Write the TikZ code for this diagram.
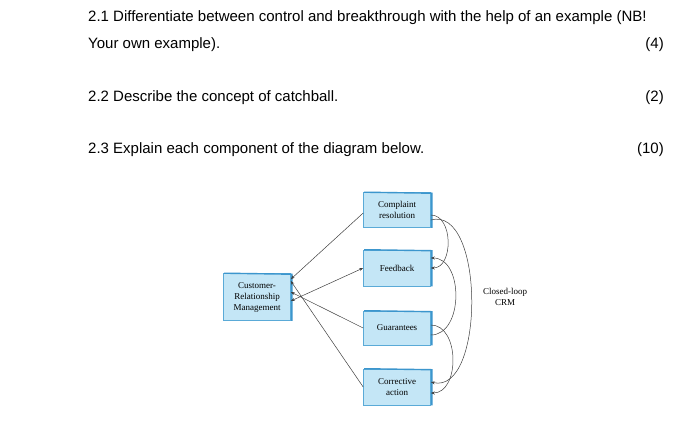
\documentclass[tikz,border=0pt]{standalone}
\usepackage{fontspec}
\setmainfont{Liberation Sans}
\newfontfamily\diag{Liberation Serif}
\usetikzlibrary{arrows.meta}
\definecolor{boxfill}{RGB}{196,230,246}
\definecolor{boxline}{RGB}{90,170,215}
\definecolor{boxdark}{RGB}{60,150,205}
\begin{document}
\begin{tikzpicture}[x=1pt,y=-1pt,
  q/.style={anchor=base west,inner sep=0pt,font=\fontsize{15}{18}\selectfont},
  qr/.style={anchor=base east,inner sep=0pt,font=\fontsize{15}{18}\selectfont},
  bx/.style={draw=boxline,fill=boxfill,line width=0.6pt,minimum width=67pt,align=center,font=\diag\fontsize{9}{11}\selectfont,inner sep=1pt},
  arr/.style={draw=black!75,line width=0.5pt,-{Stealth[length=4pt,width=3pt]}}]
\useasboundingbox (0,0) rectangle (700,424);
\fill[white] (0,0) rectangle (700,424);
\node[q] (l1) at (88,21) {2.1 Differentiate between control and breakthrough with the help of an example (NB!};
\node[q] (l2) at (88,48) {Your own example).};
\node[qr] (m1) at (664,48) {(4)};
\node[q] (l3) at (88,101) {2.2 Describe the concept of catchball.};
\node[qr] (m2) at (664,101) {(2)};
\node[q] (l4) at (88,153) {2.3 Explain each component of the diagram below.};
\node[qr] (m3) at (664,153) {(10)};
\node[bx,minimum height=35pt] (cr) at (397,210) {Complaint\\resolution};
\node[bx,minimum height=36pt] (fb) at (397,268) {Feedback};
\node[bx,minimum height=34pt] (gu) at (397,328) {Guarantees};
\node[bx,minimum height=36pt] (ca) at (397,387) {Corrective\\action};
\node[bx,minimum height=47pt] (crm) at (257,297) {Customer-\\Relationship\\Management};
\foreach \n in {cr,fb,gu,ca,crm}{
  \draw[boxdark,line width=1.4pt] ([xshift=1pt]\n.north west) -- ([xshift=1pt,yshift=-1pt]\n.north east) -- ([xshift=1pt]\n.south east);
}
\node[font=\diag\fontsize{9}{11}\selectfont,align=center] (cl) at (505,297) {Closed-loop\\CRM};
\draw[arr] ([yshift=-3pt]cr.west) -- ([yshift=-6pt]crm.north east);
\draw[arr,{Stealth[length=4pt,width=3pt]}-{Stealth[length=4pt,width=3pt]}] ([yshift=-4pt]crm.east) -- (fb.west);
\draw[arr] (gu.west) -- ([yshift=5pt]crm.east);
\draw[arr] ([yshift=0pt]ca.west) -- ([yshift=16pt]crm.east);
\draw[arr] ([yshift=-5pt]cr.east) to[out=0,in=0,looseness=1.1] ([yshift=0pt]fb.east);
\draw[arr] ([yshift=-7pt]gu.east) to[out=0,in=0,looseness=1.1] ([yshift=10pt]fb.east);
\draw[arr] ([yshift=3pt]gu.east) to[out=0,in=0,looseness=1.1] ([yshift=-6pt]ca.east);
\draw[arr] ([yshift=-10pt]cr.east) .. controls (485,205) and (485,395) .. ([yshift=5pt]ca.east);
\end{tikzpicture}
\end{document}
